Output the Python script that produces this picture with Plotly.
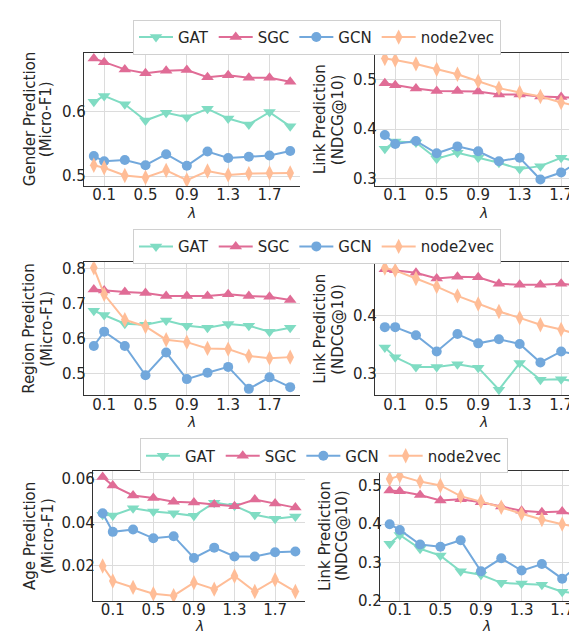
import plotly.graph_objects as go

lam = [0, 0.1, 0.3, 0.5, 0.7, 0.9, 1.1, 1.3, 1.5, 1.7, 1.9]
methods = ["GAT", "SGC", "GCN", "node2vec"]

gender = {
    "GAT": [0.615, 0.624, 0.611, 0.586, 0.598, 0.591, 0.604, 0.589, 0.580, 0.599, 0.577],
    "SGC": [0.682, 0.676, 0.665, 0.659, 0.663, 0.664, 0.653, 0.656, 0.652, 0.652, 0.646],
    "GCN": [0.531, 0.523, 0.525, 0.517, 0.534, 0.516, 0.538, 0.528, 0.530, 0.532, 0.539],
    "node2vec": [0.517, 0.513, 0.501, 0.498, 0.509, 0.494, 0.508, 0.502, 0.504, 0.505, 0.505],
}
link1 = {
    "GAT": [0.360, 0.375, 0.373, 0.340, 0.352, 0.342, 0.332, 0.319, 0.325, 0.342, 0.332],
    "SGC": [0.493, 0.489, 0.482, 0.477, 0.477, 0.476, 0.470, 0.470, 0.466, 0.465, 0.463],
    "GCN": [0.388, 0.370, 0.376, 0.351, 0.365, 0.355, 0.335, 0.342, 0.298, 0.312, 0.338],
    "node2vec": [0.543, 0.540, 0.532, 0.521, 0.511, 0.497, 0.483, 0.474, 0.466, 0.454, 0.444],
}
region = {
    "GAT": [0.680, 0.668, 0.643, 0.640, 0.652, 0.637, 0.631, 0.642, 0.637, 0.620, 0.631],
    "SGC": [0.741, 0.738, 0.734, 0.731, 0.722, 0.722, 0.722, 0.727, 0.722, 0.720, 0.711],
    "GCN": [0.579, 0.620, 0.579, 0.495, 0.560, 0.484, 0.502, 0.519, 0.456, 0.489, 0.461],
    "node2vec": [0.803, 0.727, 0.654, 0.635, 0.597, 0.590, 0.572, 0.570, 0.550, 0.544, 0.547],
}
link2 = {
    "GAT": [0.345, 0.328, 0.311, 0.311, 0.316, 0.310, 0.272, 0.318, 0.289, 0.290, 0.285],
    "SGC": [0.480, 0.478, 0.474, 0.464, 0.467, 0.466, 0.455, 0.453, 0.453, 0.455, 0.451],
    "GCN": [0.380, 0.380, 0.366, 0.338, 0.368, 0.352, 0.359, 0.351, 0.319, 0.338, 0.331],
    "node2vec": [0.482, 0.478, 0.464, 0.450, 0.434, 0.420, 0.407, 0.396, 0.384, 0.376, 0.365],
}
age = {
    "GAT": [0.0435, 0.0432, 0.0465, 0.0450, 0.0442, 0.0430, 0.0491, 0.0477, 0.0435, 0.0417, 0.0427],
    "SGC": [0.0610, 0.0570, 0.0524, 0.0512, 0.0495, 0.0492, 0.0483, 0.0474, 0.0505, 0.0487, 0.0468],
    "GCN": [0.0442, 0.0356, 0.0367, 0.0326, 0.0336, 0.0235, 0.0283, 0.0242, 0.0242, 0.0262, 0.0265],
    "node2vec": [0.0198, 0.0129, 0.0099, 0.0070, 0.0061, 0.0121, 0.0091, 0.0152, 0.0080, 0.0135, 0.0080],
}
link3 = {
    "GAT": [0.349, 0.372, 0.336, 0.318, 0.277, 0.268, 0.247, 0.245, 0.242, 0.224, 0.218],
    "SGC": [0.488, 0.486, 0.476, 0.462, 0.465, 0.457, 0.446, 0.435, 0.431, 0.433, 0.418],
    "GCN": [0.400, 0.385, 0.347, 0.341, 0.358, 0.277, 0.311, 0.279, 0.296, 0.258, 0.302],
    "node2vec": [0.518, 0.526, 0.511, 0.501, 0.473, 0.459, 0.444, 0.427, 0.412, 0.400, 0.389],
}

xtick_vals = [0.1, 0.5, 0.9, 1.3, 1.7]
xtick_text = ["0.1", "0.5", "0.9", "1.3", "1.7"]

panels = [
    dict(data=gender, title=["Gender Prediction", "(Micro-F1)"], yr=[0.485, 0.691],
         yt=[0.5, 0.6], ytt=["0.5", "0.6"]),
    dict(data=link1, title=["Link Prediction", "(NDCG@10)"], yr=[0.285, 0.555],
         yt=[0.3, 0.4, 0.5], ytt=["0.3", "0.4", "0.5"]),
    dict(data=region, title=["Region Prediction", "(Micro-F1)"], yr=[0.437, 0.819],
         yt=[0.5, 0.6, 0.7, 0.8], ytt=["0.5", "0.6", "0.7", "0.8"]),
    dict(data=link2, title=["Link Prediction", "(NDCG@10)"], yr=[0.262, 0.492],
         yt=[0.3, 0.4], ytt=["0.3", "0.4"]),
    dict(data=age, title=["Age Prediction", "(Micro-F1)"], yr=[0.0035, 0.0638],
         yt=[0.02, 0.04, 0.06], ytt=["0.02", "0.04", "0.06"]),
    dict(data=link3, title=["Link Prediction", "(NDCG@10)"], yr=[0.199, 0.539],
         yt=[0.2, 0.3, 0.4, 0.5], ytt=["0.2", "0.3", "0.4", "0.5"]),
]

W, H = 577, 634
# pixel layout (left, right, top, bottom, xmax)
boxes = [
    (76, 292, 43.3, 179, 1.995),
    (367, 577, 43.3, 179, 1.93),
    (76, 292, 256.7, 392.3, 1.995),
    (367, 577, 256.7, 392.3, 1.93),
    (85, 297, 469, 601.7, 1.995),
    (372, 577, 469, 601.7, 1.925),
]
ytitle_x = [(22, 38), (312, 330), (21, 39), (312, 330), (22, 40), (317, 334)]
lam_y = [207, 419, 627]
legend_pos = [(125, 10), (125, 223), (132, 436)]

colors = {"GAT": "#80dcc3", "SGC": "#e06c96", "GCN": "#72a8dc", "node2vec": "#ffbd97"}
symbols = {"GAT": "triangle-down", "SGC": "triangle-up", "GCN": "circle", "node2vec": "diamond-tall"}
msize = {"GAT": 11, "SGC": 11, "GCN": 10, "node2vec": 11}

FONT = "DejaVu Sans"
TXT = "#262626"

fig = go.Figure()
annotations = []
layout = dict(
    width=W, height=H, margin=dict(l=0, r=0, t=0, b=0),
    paper_bgcolor="white", plot_bgcolor="white",
    font=dict(family=FONT, size=14, color=TXT),
    showlegend=True,
)

for i, p in enumerate(panels):
    k = "" if i == 0 else str(i + 1)
    l, r, t, b, xmax = boxes[i]
    row = i // 2
    leg = "legend" if row == 0 else "legend%d" % (row + 1)
    for m in methods:
        fig.add_trace(go.Scatter(
            x=lam, y=p["data"][m], name=m, mode="lines+markers",
            line=dict(color=colors[m], width=2),
            marker=dict(symbol=symbols[m], size=msize[m], color=colors[m]),
            xaxis="x" + k, yaxis="y" + k, legend=leg,
            showlegend=(i % 2 == 0), cliponaxis=True,
        ))
    layout["xaxis" + k] = dict(
        domain=[l / W, r / W], anchor="y" + k, range=[-0.095, xmax],
        tickvals=xtick_vals, ticktext=xtick_text, showgrid=True,
        gridcolor="#dcdcdc", gridwidth=1, zeroline=False, showline=True,
        linecolor="#333333", linewidth=1.3, mirror=True, ticks="",
        ticklabelstandoff=-5,
        tickfont=dict(size=15, color=TXT), fixedrange=True,
    )
    layout["yaxis" + k] = dict(
        domain=[1 - b / H, 1 - t / H], anchor="x" + k, range=p["yr"],
        tickvals=p["yt"], ticktext=p["ytt"], showgrid=True,
        gridcolor="#dcdcdc", gridwidth=1, zeroline=False, showline=True,
        linecolor="#333333", linewidth=1.3, mirror=False, ticks="",
        ticklabelstandoff=-6,
        tickfont=dict(size=15, color=TXT), fixedrange=True,
    )
    for line_text, tx in zip(p["title"], ytitle_x[i]):
        annotations.append(dict(
            text=line_text, textangle=-90, x=tx / W, y=1 - ((t + b) / 2) / H,
            xref="paper", yref="paper", showarrow=False, xanchor="center", yanchor="middle",
            font=dict(size=15, color=TXT),
        ))
    annotations.append(dict(
        text="<i>λ</i>", x=((l + (l + (r - l) * (1.995 + 0.095) / (xmax + 0.095))) / 2) / W,
        y=1 - lam_y[row] / H, xref="paper", yref="paper", showarrow=False,
        xanchor="center", yanchor="middle", font=dict(size=14, color=TXT),
    ))

for j, (lx, ly) in enumerate(legend_pos):
    key = "legend" if j == 0 else "legend%d" % (j + 1)
    layout[key] = dict(
        orientation="h", x=lx / W, y=1 - ly / H, xanchor="left", yanchor="top",
        bordercolor="#d0d0d0", borderwidth=1, bgcolor="white",
        font=dict(size=15, color=TXT), itemwidth=34,
        tracegroupgap=0,
    )

layout["annotations"] = annotations
fig.update_layout(**layout)
fig.write_html("out.html")
